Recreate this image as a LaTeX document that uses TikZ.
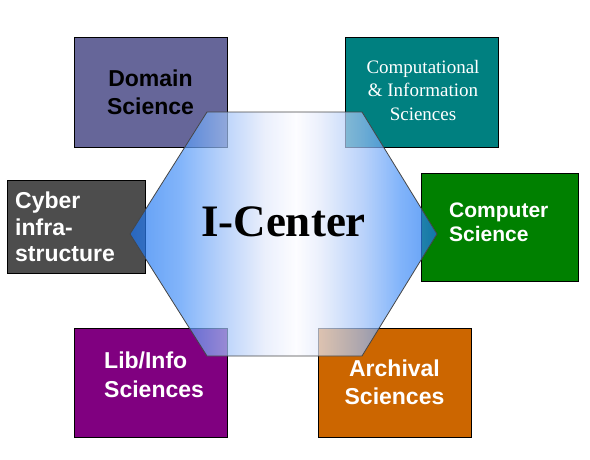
\documentclass[tikz,border=0pt]{standalone}
\usepackage{fontspec}
\setmainfont{Liberation Serif}
\setsansfont{Liberation Sans}
\definecolor{cDom}{HTML}{666699}
\definecolor{cCis}{HTML}{008080}
\definecolor{cCyb}{HTML}{4D4D4D}
\definecolor{cCs}{HTML}{008000}
\definecolor{cLib}{HTML}{800080}
\definecolor{cArc}{HTML}{CC6600}
\definecolor{hE}{RGB}{25,115,240}
\definecolor{hA}{RGB}{76,148,248}
\definecolor{hB}{RGB}{155,191,248}
\definecolor{hC}{RGB}{226,233,251}
\definecolor{hD}{RGB}{252,252,255}
\definecolor{hexline}{RGB}{70,70,70}
\pgfdeclarehorizontalshading{hexshade}{100bp}{color(0bp)=(hE); color(25bp)=(hE); color(33bp)=(hA); color(40bp)=(hB); color(47bp)=(hC); color(52bp)=(hD); color(56bp)=(hC); color(63bp)=(hB); color(69bp)=(hA); color(75bp)=(hE); color(100bp)=(hE)}
\begin{document}
\begin{tikzpicture}[x=1pt,y=-1pt,
  box/.style={draw=black, line width=0.8pt, inner sep=0pt, outer sep=0pt, anchor=north west},
  bigbox/.style={box, minimum width=153pt, minimum height=110pt},
  sanslab/.style={font=\sffamily\bfseries\fontsize{23}{28}\selectfont, inner sep=0pt, text=white},
  serlab/.style={font=\fontsize{19}{23.5}\selectfont, inner sep=0pt, text=white}]
\useasboundingbox (0,0) rectangle (590,459);
% boxes
\node[bigbox, fill=cDom] (dom) at (74,37) {};
\node[bigbox, fill=cCis] (cis) at (345,37) {};
\node[box, fill=cCyb, minimum width=138pt, minimum height=93pt] (cyb) at (7,180) {};
\node[box, fill=cCs, minimum width=157pt, minimum height=108pt] (cs) at (421,173) {};
\node[bigbox, fill=cLib, minimum height=109pt] (lib) at (74,328) {};
\node[bigbox, fill=cArc, minimum height=109pt] (arc) at (318,328) {};
% hexagon
\coordinate (h1) at (207,112);
\coordinate (h2) at (362,112);
\coordinate (h3) at (437,234);
\coordinate (h4) at (362,356);
\coordinate (h5) at (207,356);
\coordinate (h6) at (130,234);
\shade[shading=hexshade, fill opacity=0.7] (h1) -- (h2) -- (h3) -- (h4) -- (h5) -- (h6) -- cycle;
\draw[hexline, line width=0.8pt, line join=miter] (h1) -- (h2) -- (h3) -- (h4) -- (h5) -- (h6) -- cycle;
% labels
\node[sanslab, text=black, align=center] (tdom) at (150.5,92) {Domain\\Science};
\node[serlab, align=center] (tcis) at (423,90) {Computational\\\& Information\\Sciences};
\node[sanslab, font=\sffamily\bfseries\fontsize{23}{26.5}\selectfont, align=left, anchor=west] (tcyb) at (15,227) {Cyber\\infra-\\structure};
\node[sanslab, font=\sffamily\bfseries\fontsize{21}{24}\selectfont, align=left, anchor=west] (tcs) at (449,222.5) {Computer\\Science};
\node[sanslab, font=\sffamily\bfseries\fontsize{23}{29}\selectfont, align=left, anchor=west] (tlib) at (104,374.5) {Lib/Info\\Sciences};
\node[sanslab, align=center] (tarc) at (394.5,382) {Archival\\Sciences};
\node[font=\bfseries\fontsize{45}{54}\selectfont, inner sep=0pt, anchor=base] (ictr) at (283.5,236) {I-Center};
\end{tikzpicture}
\end{document}
